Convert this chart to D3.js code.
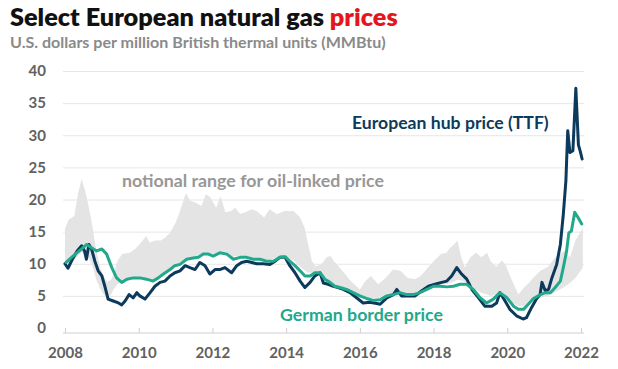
<!DOCTYPE html>
<html><head><meta charset="utf-8">
<script src="https://cdn.jsdelivr.net/npm/d3@7"></script>
<style>
html,body{margin:0;padding:0;background:#fff;}
svg{display:block;font-family:Lato,"Open Sans",sans-serif;}
</style></head><body>
<svg id="c" width="618" height="369"></svg>
<script>
// ---- data ----
const ttfYears = [2008.00,2008.08,2008.20,2008.33,2008.45,2008.53,2008.58,2008.65,2008.72,2008.81,2008.90,
  2009.00,2009.09,2009.17,2009.31,2009.45,2009.54,2009.63,2009.74,2009.85,2009.95,
  2010.03,2010.17,2010.31,2010.44,2010.58,2010.71,2010.85,2010.98,
  2011.12,2011.26,2011.39,2011.53,2011.66,2011.80,2011.93,
  2012.07,2012.20,2012.34,2012.52,2012.66,2012.79,2012.93,
  2013.07,2013.20,2013.38,2013.56,2013.70,2013.83,2013.97,
  2014.10,2014.24,2014.38,2014.51,2014.65,2014.78,2014.92,
  2015.01,2015.14,2015.28,2015.41,2015.55,2015.73,2015.91,
  2016.09,2016.27,2016.46,2016.55,2016.73,2016.91,
  2017.00,2017.13,2017.31,2017.50,2017.68,2017.86,
  2018.04,2018.22,2018.36,2018.49,2018.63,2018.76,2018.90,
  2019.04,2019.22,2019.39,2019.58,2019.71,2019.80,2019.94,
  2020.07,2020.25,2020.43,2020.52,2020.66,2020.79,2020.89,2020.94,
  2021.03,2021.12,2021.21,2021.34,2021.44,2021.52,2021.59,2021.64,2021.70,2021.78,2021.86,2021.93,2021.98,2022.03];
const ttfValues = [10.0,9.3,10.7,12.0,12.8,12.0,10.7,13.0,12.3,10.4,8.9,
  8.1,6.3,4.5,4.2,3.9,3.6,4.2,5.2,4.7,5.5,
  5.0,4.5,5.5,6.5,7.1,7.3,8.1,8.6,
  8.9,9.7,9.4,9.1,10.2,9.7,8.4,
  9.1,9.1,9.4,8.6,9.7,10.2,10.4,
  10.2,10.0,10.0,9.9,10.4,11.0,11.0,
  9.7,8.6,7.3,6.3,7.1,8.1,8.6,
  7.0,6.8,6.5,6.3,6.0,5.5,4.7,
  3.9,4.0,3.8,3.7,4.7,5.2,
  6.0,5.0,5.0,5.0,5.8,6.5,
  6.8,7.1,7.3,8.1,9.4,8.4,7.6,
  6.0,4.7,3.4,3.4,3.9,5.5,4.2,
  2.9,1.9,1.4,1.6,3.2,4.5,5.2,7.1,
  5.8,6.0,7.8,9.9,13.0,17.7,22.9,30.7,27.3,27.6,37.3,28.5,27.5,26.3];

const germanYears = [2008.03,2008.18,2008.32,2008.45,2008.59,2008.72,2008.86,
  2009.00,2009.13,2009.27,2009.40,2009.54,2009.68,2009.85,
  2010.03,2010.21,2010.39,2010.53,2010.67,2010.85,2010.98,
  2011.12,2011.30,2011.48,2011.62,2011.75,2011.89,
  2012.02,2012.20,2012.39,2012.57,2012.75,2012.93,
  2013.11,2013.29,2013.47,2013.65,2013.83,2013.97,
  2014.10,2014.24,2014.38,2014.51,2014.65,2014.78,2014.92,
  2015.05,2015.19,2015.32,2015.46,2015.64,2015.82,
  2016.00,2016.18,2016.36,2016.55,2016.73,2016.91,
  2017.09,2017.27,2017.45,2017.63,2017.82,
  2018.00,2018.18,2018.36,2018.54,2018.72,2018.90,
  2019.08,2019.26,2019.44,2019.62,2019.80,2019.99,
  2020.17,2020.30,2020.44,2020.57,2020.71,2020.90,
  2021.03,2021.17,2021.30,2021.44,2021.52,2021.61,2021.67,2021.74,2021.83,2021.92,2022.02];
const germanValues = [10.2,11.0,11.7,12.3,13.0,12.5,12.0,
  12.3,11.5,9.4,7.8,7.1,7.6,7.8,
  7.8,7.6,7.3,7.8,8.4,9.1,9.7,
  9.9,10.7,10.9,11.0,11.5,11.5,
  11.2,11.7,11.5,10.7,11.0,11.0,
  10.7,10.7,10.4,10.4,11.0,11.1,
  10.4,9.7,8.9,8.1,8.1,8.6,8.6,
  7.6,7.1,6.5,6.3,6.0,5.5,
  5.0,4.6,4.3,4.4,5.0,5.2,
  5.5,5.2,5.2,5.5,6.0,
  6.5,6.5,6.4,6.5,6.8,6.8,
  6.0,4.7,3.9,4.5,5.5,4.7,
  3.4,2.9,2.9,3.7,4.6,5.2,
  5.5,5.5,6.3,7.3,9.4,12.0,14.8,15.1,18.0,17.2,16.2];

const bandYears = [2008.00,2008.10,2008.25,2008.35,2008.45,2008.55,2008.65,2008.75,2008.85,2008.95,
  2009.05,2009.15,2009.25,2009.32,2009.42,2009.55,2009.75,2009.90,
  2010.05,2010.20,2010.30,2010.45,2010.60,2010.72,2010.85,
  2011.00,2011.12,2011.28,2011.40,2011.55,2011.70,2011.82,2011.95,
  2012.10,2012.22,2012.35,2012.50,2012.62,2012.75,2012.90,
  2013.05,2013.20,2013.40,2013.55,2013.75,2013.95,
  2014.20,2014.38,2014.50,2014.60,2014.70,2014.80,2014.95,
  2015.10,2015.20,2015.30,2015.45,2015.60,2015.75,
  2016.00,2016.15,2016.30,2016.50,2016.70,2016.90,
  2017.10,2017.30,2017.50,2017.65,2017.85,
  2018.00,2018.20,2018.35,2018.45,2018.55,2018.65,2018.75,2018.85,
  2019.00,2019.15,2019.30,2019.45,2019.55,2019.70,2019.85,2019.95,
  2020.10,2020.30,2020.45,2020.60,2020.70,2020.90,
  2021.10,2021.30,2021.55,2021.70,2021.85,2022.05];
const bandLow = [9.8,10.0,10.6,11.2,11.8,11.5,10.8,9.5,7.5,6.2,
  5.2,4.7,5.2,6.0,6.8,7.2,7.6,7.8,
  7.8,7.6,7.4,7.6,8.0,8.5,9.2,
  9.8,10.1,10.8,11.0,11.1,11.4,11.6,11.4,
  11.6,11.8,11.6,11.0,11.2,11.2,11.2,
  11.0,10.9,10.7,10.6,11.0,11.3,
  10.5,9.5,9.0,8.6,8.6,8.7,8.5,
  7.6,7.2,6.8,6.5,6.2,5.7,
  5.0,4.8,4.6,4.6,5.0,5.3,
  5.5,5.4,5.4,5.7,6.2,
  6.6,6.8,6.8,7.0,7.2,7.5,7.4,7.2,
  6.8,6.0,5.5,5.2,5.0,5.2,5.6,5.0,
  4.0,3.4,3.4,3.8,4.2,4.8,
  5.0,5.6,6.4,7.0,7.8,9.4];
const bandHigh = [15.5,16.9,17.4,20.8,23.2,21.3,18.7,15.6,12.0,9.5,
  8.0,7.2,7.5,8.4,10.4,11.5,11.7,12.3,
  13.2,14.3,13.3,13.6,13.6,14.1,14.8,
  16.4,18.2,21.0,19.8,19.5,19.0,20.8,20.3,
  18.7,20.5,18.0,18.2,18.7,17.8,18.0,
  18.5,18.2,17.2,18.5,17.7,18.2,
  18.2,17.2,15.6,13.0,10.4,9.6,9.9,
  11.0,11.2,10.4,9.4,8.4,7.3,
  6.0,7.3,8.1,6.8,7.8,9.1,
  8.9,7.8,7.6,8.1,9.4,
  10.4,11.5,11.7,12.5,13.0,13.6,11.0,9.4,
  11.0,11.7,11.0,11.7,10.4,9.5,10.5,9.9,
  7.8,5.2,6.3,7.1,7.8,8.9,
  9.5,11.0,12.0,11.0,13.6,15.6];

const yTicks = [0,5,10,15,20,25,30,35,40];
const xTicks = [2008,2010,2012,2014,2016,2018,2020,2022];

// ---- chart ----
const svg = d3.select('#c');
const x = d3.scaleLinear().domain([2008, 2022]).range([65, 581]);
const y = d3.scaleLinear().domain([0, 40]).range([328, 71]);
const gridLeft = 63, gridRight = 584;

// title
const title = svg.append('text').attr('x', 10).attr('y', 26)
  .attr('font-size', 22).attr('font-weight', 800).attr('fill', '#111');
title.append('tspan').text('Select European natural gas ');
title.append('tspan').attr('fill', '#e3161d').text('prices');
const sub = svg.append('text').attr('x', 10).attr('y', 48)
  .attr('font-size', 12.5).attr('font-weight', 700).attr('fill', '#8a8a8a')
  .text('U.S. dollars per million British thermal units (MMBtu)');

function fit(sel, w) {
  const fs = parseFloat(sel.attr('font-size'));
  const l = sel.node().getComputedTextLength();
  if (l > 0) sel.attr('font-size', (fs * w / l).toFixed(2));
}
fit(title, 388);
fit(sub, 376);

// y grid + labels
const yAxis = svg.append('g').attr('transform', `translate(${gridLeft},0)`)
  .call(d3.axisLeft(y).tickValues(yTicks).tickSize(-(gridRight - gridLeft)).tickPadding(17));
yAxis.select('.domain').remove();
yAxis.selectAll('.tick line').attr('stroke', '#e6e6e6').attr('stroke-width', 1)
  .filter(d => d === 0).remove();
yAxis.selectAll('.tick text').attr('font-size', 15).attr('font-weight', 700)
  .attr('fill', '#616161').attr('font-family', 'Lato, sans-serif');

// x axis
const axisY = 333;
const xAxis = svg.append('g').attr('transform', `translate(0,${axisY})`)
  .call(d3.axisBottom(x).tickValues(xTicks).tickFormat(d3.format('d')).tickSizeInner(-5).tickSizeOuter(0).tickPadding(14));
xAxis.select('.domain').attr('stroke', '#cfcfcf').attr('d', `M${gridLeft},0H${gridRight}`);
xAxis.selectAll('.tick line').attr('stroke', '#cfcfcf');
xAxis.selectAll('.tick text').attr('font-size', 15).attr('font-weight', 700)
  .attr('fill', '#616161').attr('font-family', 'Lato, sans-serif');

// band
const band = d3.zip(bandYears, bandLow, bandHigh);
svg.append('path').datum(band)
  .attr('fill', '#e4e4e4')
  .attr('d', d3.area().x(d => x(d[0])).y0(d => y(d[1])).y1(d => y(d[2])));

// lines
const line = d3.line().x(d => x(d[0])).y(d => y(d[1]));
svg.append('path').datum(d3.zip(ttfYears, ttfValues))
  .attr('fill', 'none').attr('stroke', '#0c3a5c').attr('stroke-width', 3)
  .attr('stroke-linejoin', 'round').attr('stroke-linecap', 'round').attr('d', line);
svg.append('path').datum(d3.zip(germanYears, germanValues))
  .attr('fill', 'none').attr('stroke', '#22a88a').attr('stroke-width', 3)
  .attr('stroke-linejoin', 'round').attr('stroke-linecap', 'round').attr('d', line);

// annotations
const a1 = svg.append('text').attr('x', 352).attr('y', 129)
  .attr('font-size', 15.5).attr('font-weight', 700).attr('fill', '#0c3a5c')
  .text('European hub price (TTF)');
fit(a1, 197);
const a2 = svg.append('text').attr('x', 122).attr('y', 187)
  .attr('font-size', 15.5).attr('font-weight', 700).attr('fill', '#979797')
  .text('notional range for oil-linked price');
fit(a2, 262);
const a3 = svg.append('text').attr('x', 280).attr('y', 321)
  .attr('font-size', 15.5).attr('font-weight', 700).attr('fill', '#22a88a')
  .text('German border price');
fit(a3, 163);
</script>
</body></html>
